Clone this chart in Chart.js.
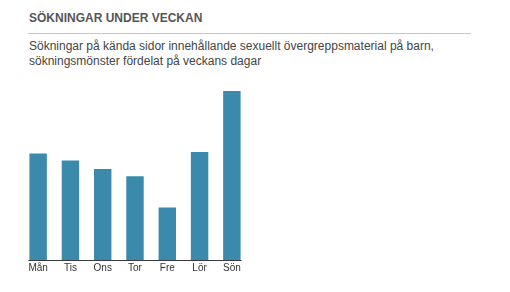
<!DOCTYPE html>
<html lang="sv">
<head>
    <meta charset="UTF-8">
    <title>Sökningar under veckan</title>
    <script src="https://cdn.jsdelivr.net/npm/chart.js"></script>
    <style>
        html, body { margin: 0; padding: 0; background: #fff; }
        body { width: 510px; height: 292px; position: relative; overflow: hidden;
               font-family: "Liberation Sans", Arial, sans-serif; }
        .heading { position: absolute; left: 29px; top: 11px; font-size: 12px; font-weight: bold;
                   color: #555; }
        .rule { position: absolute; left: 28px; top: 33px; width: 443px; height: 0;
                border-top: 1px solid #e3cc62; }
        .sub { position: absolute; left: 29px; top: 39px; font-size: 12px; line-height: 15px; color: #444; }
        .wrap { position: absolute; left: 0; top: 0; width: 510px; height: 292px; }
    </style>
</head>
<body>
    <div class="heading">SÖKNINGAR UNDER VECKAN</div>
    <div class="rule"></div>
    <div class="sub">Sökningar på kända sidor innehållande sexuellt övergreppsmaterial på barn,<br>sökningsmönster fördelat på veckans dagar</div>
    <div class="wrap"><canvas id="weekChart"></canvas></div>

    <script>
        // andel sökningar per veckodag (uppskattat från bilden)
        const days = ['Mån', 'Tis', 'Ons', 'Tor', 'Fre', 'Lör', 'Sön'];
        const searches = [15.0, 14.0, 12.8, 11.8, 7.4, 15.2, 23.8];

        // baseline under the bars, from first bar to last bar
        const baseline = {
            id: 'baseline',
            afterDatasetsDraw(chart) {
                const bars = chart.getDatasetMeta(0).data;
                if (!bars.length) return;
                const first = bars[0], last = bars[bars.length - 1];
                const y = chart.scales.y.getPixelForValue(0);
                const ctx = chart.ctx;
                ctx.save();
                ctx.strokeStyle = '#3a3a3a';
                ctx.lineWidth = 1;
                ctx.beginPath();
                ctx.moveTo(first.x - first.width / 2 - 1, Math.round(y) + 0.5);
                ctx.lineTo(last.x + last.width / 2 + 1, Math.round(y) + 0.5);
                ctx.stroke();
                ctx.restore();
            }
        };

        new Chart(document.getElementById('weekChart'), {
            type: 'bar',
            data: {
                labels: days,
                datasets: [{
                    data: searches,
                    backgroundColor: '#3b8aab',
                    borderWidth: 0,
                    barPercentage: 0.6,
                    categoryPercentage: 0.9
                }]
            },
            options: {
                responsive: true,
                maintainAspectRatio: false,
                animation: false,
                layout: { padding: { left: 22, right: 262, top: 91, bottom: 16 } },
                plugins: {
                    legend: { display: false },
                    tooltip: { enabled: false }
                },
                scales: {
                    x: {
                        grid: { display: false, drawTicks: false },
                        border: { display: false },
                        ticks: { color: '#333', font: { family: 'Liberation Sans', size: 10 }, padding: 2 }
                    },
                    y: {
                        display: false,
                        min: 0,
                        max: Math.max(...searches)
                    }
                }
            },
            plugins: [baseline]
        });
    </script>
</body>
</html>
